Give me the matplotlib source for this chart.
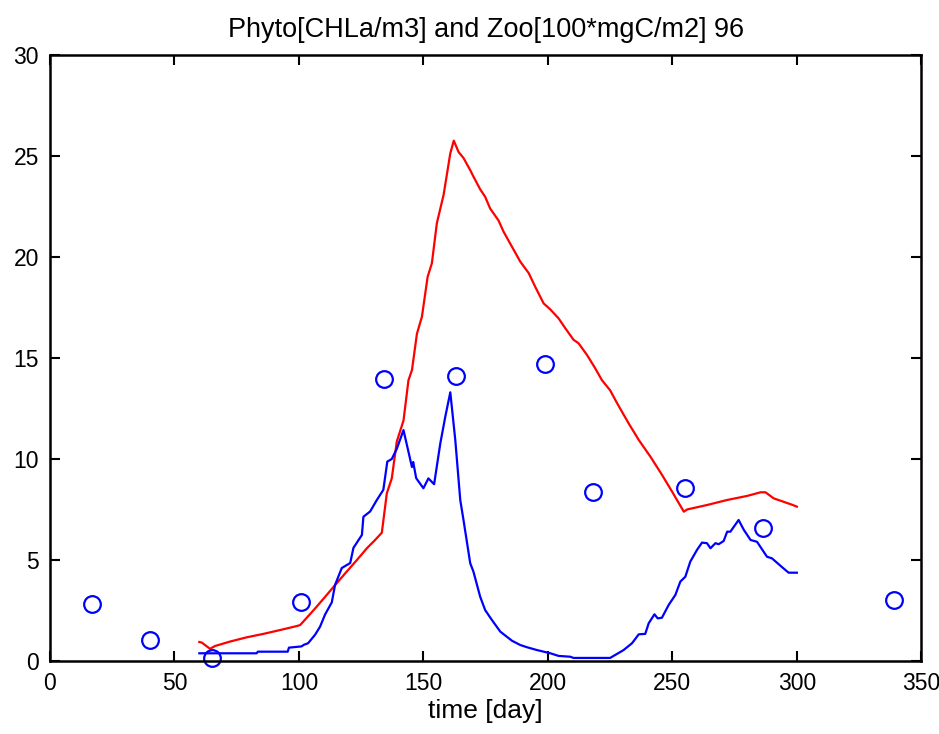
import matplotlib
matplotlib.use("Agg")
import matplotlib.pyplot as plt

# model curve (red)
phyto_day = [60, 61, 64.3, 66.3, 72.3, 79, 85.7, 92.4, 99.2, 100.5, 102.5, 106.5, 110, 114,
             118.6, 123.3, 127.3, 130.6, 133.3, 135.3, 137.3, 139.3, 142, 144, 145.4, 147.4,
             149.4, 151.7, 153.4, 155.4, 156.8, 158.1, 160.8, 162.2, 164.1, 166.1, 168.8,
             170.1, 172.8, 174.8, 176.8, 180.2, 182.2, 185.6, 188.9, 192.3, 195, 198.3, 201,
             204.3, 207, 210.3, 212.3, 215.7, 219, 221.7, 225, 227.8, 232.4, 236.5, 241.2,
             245.9, 249.9, 254.6, 255.9, 263.9, 272, 280, 285.4, 287.4, 290.7, 298.4, 300]
phyto_val = [0.94, 0.91, 0.6, 0.74, 0.96, 1.17, 1.34, 1.53, 1.73, 1.78, 2.05, 2.6, 3.1, 3.68,
             4.34, 5.0, 5.58, 5.99, 6.35, 8.3, 9.04, 10.86, 11.9, 13.9, 14.4, 16.2,
             17.04, 19.02, 19.69, 21.67, 22.4, 23.07, 25.13, 25.76, 25.2, 24.9, 24.3,
             23.98, 23.35, 22.98, 22.4, 21.8, 21.25, 20.5, 19.77, 19.2, 18.5, 17.7, 17.4,
             16.96, 16.47, 15.9, 15.73, 15.15, 14.49, 13.9, 13.4, 12.76, 11.77, 10.94, 10.11,
             9.2, 8.38, 7.39, 7.5, 7.72, 7.97, 8.17, 8.35, 8.35, 8.05, 7.72, 7.64]

# model curve (blue)
zoo_day = [60, 83, 83.5, 95.5, 96, 101, 102, 103.7, 106.5, 108.5, 110.5, 113.2, 114.5, 117.2,
           120.6, 121.9, 125.3, 125.9, 128.6, 131.3, 133.9, 135.5, 137.3, 139.3, 142, 145.4,
           145.9, 147.1, 150, 152, 154.3, 156.8, 158.8, 160.8, 162.8, 164.8, 166.1, 168.8,
           170.1, 172.8, 174.8, 177.5, 180.9, 183.5, 185.6, 188.9, 191.6, 195.6, 201, 204.3,
           209, 210.3, 225, 230.4, 233.8, 236.5, 239.1, 240.5, 242.8, 244.1, 245.8, 248.5,
           251.2, 253.2, 255.2, 257.2, 259.9, 261.9, 263.9, 265.3, 267.3, 268.6, 270.6, 272,
           273.3, 276.6, 278.7, 281.4, 284, 288, 290, 294.1, 296.7, 300]
zoo_val = [0.38, 0.38, 0.46, 0.46, 0.66, 0.72, 0.8, 0.88, 1.3, 1.7, 2.3, 2.9, 3.76, 4.6,
           4.85, 5.6, 6.24, 7.14, 7.4, 7.97, 8.47, 9.87, 10.0, 10.5, 11.43, 9.6,
           9.85, 9.05, 8.55, 9.04, 8.75, 10.78, 12.1, 13.3, 10.94, 7.97, 6.98, 4.84,
           4.42, 3.18, 2.52, 2.03, 1.45, 1.2, 1.0, 0.79, 0.68, 0.54, 0.38, 0.25,
           0.21, 0.15, 0.15, 0.54, 0.88, 1.32, 1.34, 1.87, 2.31, 2.11, 2.14, 2.77,
           3.27, 3.93, 4.17, 4.92, 5.5, 5.86, 5.83, 5.58, 5.83, 5.78, 5.94, 6.4,
           6.4, 6.98, 6.49, 5.99, 5.9, 5.16, 5.08, 4.64, 4.37, 4.37]

# observations (circles)
obs_day = [17, 40, 65, 101, 134, 163, 199, 218, 255, 286.5, 339]
obs_val = [2.82, 1.04, 0.15, 2.92, 13.96, 14.1, 14.7, 8.37, 8.56, 6.58, 3.02]

plt.rcParams['font.family'] = ['Liberation Sans', 'DejaVu Sans']

fig = plt.figure(figsize=(9.39, 7.34), dpi=100)
ax = fig.add_axes([0.0532, 0.0995, 0.928, 0.8256])

ax.plot(phyto_day, phyto_val, color='red', lw=1.6)
ax.plot(zoo_day, zoo_val, color='blue', lw=1.6)
ax.plot(obs_day, obs_val, 'o', mfc='none', mec='blue', ms=12, mew=1.6, clip_on=False)

ax.set_xlim(0, 350)
ax.set_ylim(0, 30)
ax.set_xticks(range(0, 351, 50))
ax.set_yticks(range(0, 31, 5))
ax.tick_params(direction='in', length=7, width=1.5, top=True, right=True, labelsize=16.5, pad=8)
for s in ax.spines.values():
    s.set_linewidth(1.8)

ax.set_title('Phyto[CHLa/m3] and Zoo[100*mgC/m2] 96', fontsize=19.5, pad=13)
ax.set_xlabel('time [day]', fontsize=19, labelpad=3)

fig.savefig('out.png', dpi=100)
